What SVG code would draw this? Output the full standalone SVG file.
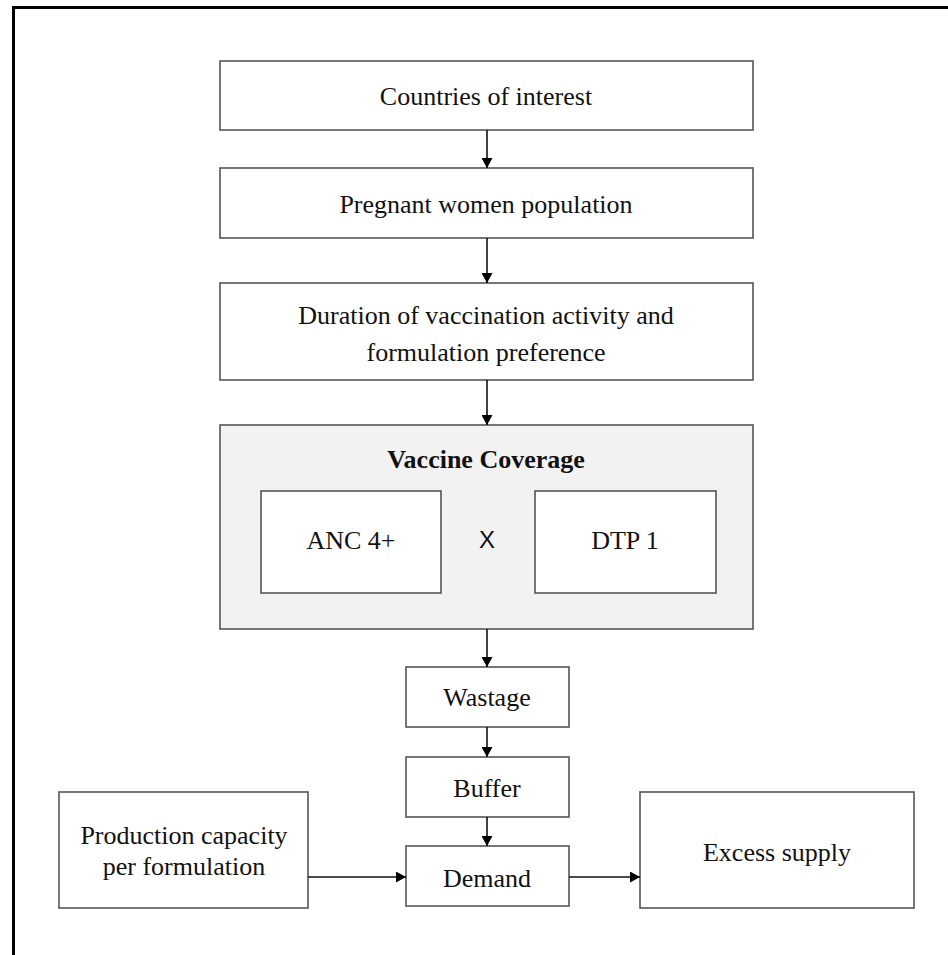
<svg xmlns="http://www.w3.org/2000/svg" width="948" height="955" viewBox="0 0 948 955">
<defs>
<marker id="ah" viewBox="0 0 10 10" refX="10" refY="5" markerWidth="10" markerHeight="11" markerUnits="userSpaceOnUse" orient="auto" preserveAspectRatio="none">
<path d="M0,0 L10,5 L0,10 z" fill="#000"/>
</marker>
<style>
.box{fill:#fff;stroke:#555;stroke-width:1.6}
.grey{fill:#f2f2f2;stroke:#555;stroke-width:1.6}
.t{font-family:"Liberation Serif","Times New Roman",serif;font-size:26px;fill:#111;text-anchor:middle}
.b{font-weight:bold}
.x{font-family:"Liberation Sans",Arial,sans-serif;font-size:24px;fill:#111;text-anchor:middle}
.c{stroke:#111;stroke-width:1.6;fill:none;marker-end:url(#ah)}
</style>
</defs>
<rect width="948" height="955" fill="#fff"/>
<path d="M13.5,955 L13.5,7.5 L948,7.5" fill="none" stroke="#000" stroke-width="3"/>
<g id="countries"><rect class="box" x="220" y="61" width="533" height="69"/><text class="t" x="486" y="105">Countries of interest</text></g>
<g id="pregnant"><rect class="box" x="220" y="168" width="533" height="70"/><text class="t" x="486" y="213">Pregnant women population</text></g>
<g id="duration"><rect class="box" x="220" y="283" width="533" height="97"/><text class="t" x="486" y="324">Duration of vaccination activity and</text><text class="t" x="486" y="361">formulation preference</text></g>
<g id="coverage"><rect class="grey" x="220" y="425" width="533" height="204"/><text class="t b" x="486" y="468">Vaccine Coverage</text><text class="x" x="487" y="548">X</text></g>
<g id="anc"><rect class="box" x="261" y="491" width="180" height="102"/><text class="t" x="351" y="549">ANC 4+</text></g>
<g id="dtp"><rect class="box" x="535" y="491" width="181" height="102"/><text class="t" x="625" y="549">DTP 1</text></g>
<g id="wastage"><rect class="box" x="406" y="667" width="163" height="60"/><text class="t" x="487" y="706">Wastage</text></g>
<g id="buffer"><rect class="box" x="406" y="757" width="163" height="60"/><text class="t" x="487" y="797">Buffer</text></g>
<g id="demand"><rect class="box" x="406" y="846" width="163" height="60"/><text class="t" x="487" y="887">Demand</text></g>
<g id="production"><rect class="box" x="59" y="792" width="249" height="116"/><text class="t" x="184" y="844">Production capacity</text><text class="t" x="184" y="875">per formulation</text></g>
<g id="excess"><rect class="box" x="640" y="792" width="274" height="116"/><text class="t" x="777" y="861">Excess supply</text></g>
<g id="connectors">
<line class="c" x1="487" y1="130" x2="487" y2="168"/>
<line class="c" x1="487" y1="238" x2="487" y2="283"/>
<line class="c" x1="487" y1="380" x2="487" y2="425"/>
<line class="c" x1="487" y1="629" x2="487" y2="667"/>
<line class="c" x1="487" y1="727" x2="487" y2="757"/>
<line class="c" x1="487" y1="817" x2="487" y2="846"/>
<line class="c" x1="308" y1="877" x2="406" y2="877"/>
<line class="c" x1="569" y1="877" x2="640" y2="877"/>
</g>
</svg>
